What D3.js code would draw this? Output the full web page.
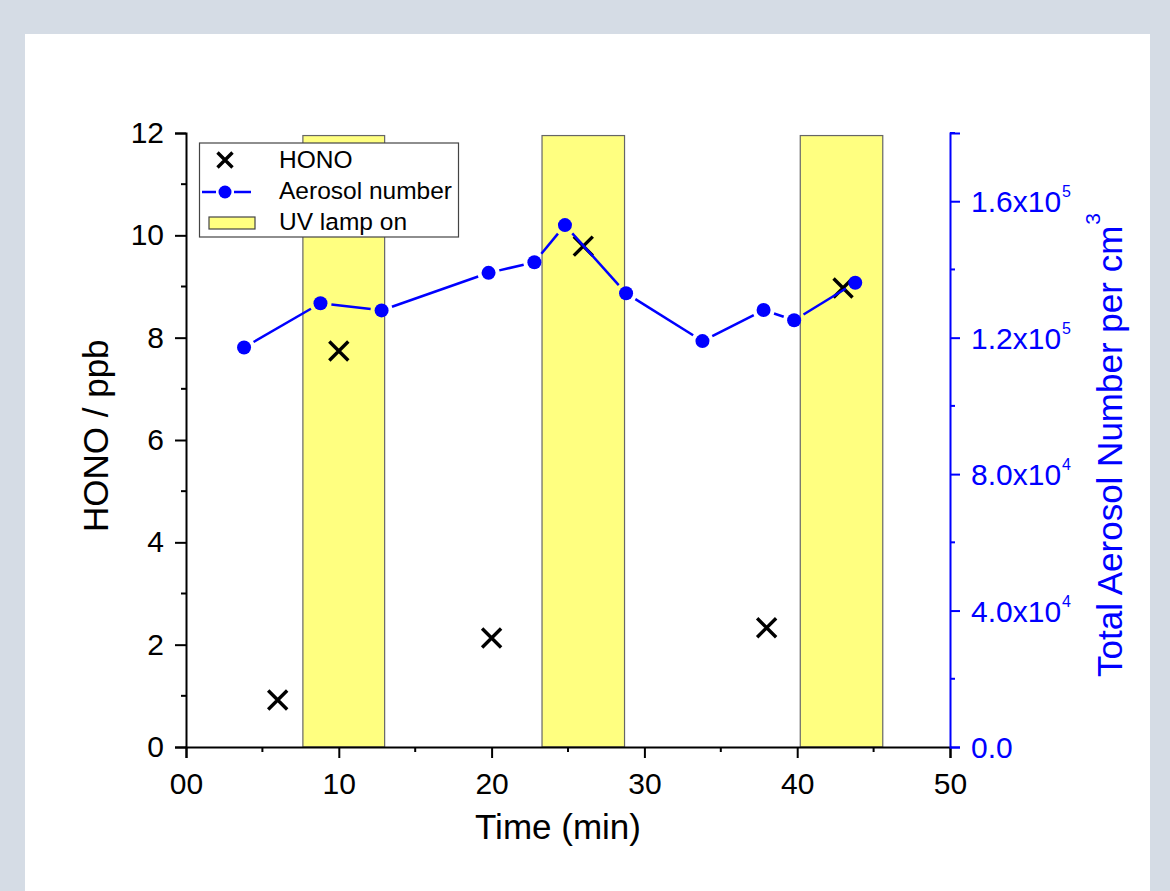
<!DOCTYPE html>
<html>
<head>
<meta charset="utf-8">
<script src="https://cdn.jsdelivr.net/npm/d3@7"></script>
<style>
  html, body { margin: 0; padding: 0; background: #d5dce5; }
  svg { display: block; font-family: "Liberation Sans", Arial, sans-serif; }
</style>
</head>
<body>
<div id="chart"></div>
<script>
// time of each measurement (min)
const honoTime = [6.0, 10.0, 20.0, 26.0, 38.0, 43.0];
const honoPpb = [0.92, 7.74, 2.13, 9.79, 2.33, 8.97];

const aerosolTime = [3.8, 8.8, 12.8, 19.8, 22.8, 24.8, 28.8, 33.8, 37.8, 39.8, 43.8];
const aerosolNumber = [117100, 130100, 128000, 139000, 142100, 153000, 133000, 119000, 128100, 125100, 136100];

// UV lamp on intervals
const lampStart = [7.65, 23.3, 40.2];
const lampEnd = [13.0, 28.7, 45.6];
const lampTop = 11.95;

const xTicks = [0, 10, 20, 30, 40, 50];
const xTickLabels = ["00", "10", "20", "30", "40", "50"];
const yTicks = [0, 2, 4, 6, 8, 10, 12];
const y2Ticks = [0, 40000, 80000, 120000, 160000];
const y2Mantissa = ["0.0", "4.0", "8.0", "1.2", "1.6"];
const y2Exp = ["", "4", "4", "5", "5"];

const W = 1170, H = 891;
const margin = {left: 186, right: 220, top: 133, bottom: 144};

const svg = d3.select("#chart").append("svg")
    .attr("width", W).attr("height", H);

svg.append("rect").attr("x", 0).attr("y", 0).attr("width", W).attr("height", H).attr("fill", "#d5dce5");
svg.append("rect").attr("x", 25).attr("y", 34).attr("width", 1125).attr("height", H - 34).attr("fill", "#fff");

const x = d3.scaleLinear().domain([0, 50]).range([margin.left, W - margin.right]);
const y = d3.scaleLinear().domain([0, 12]).range([H - margin.bottom, margin.top]);
const y2 = d3.scaleLinear().domain([0, 180000]).range([H - margin.bottom, margin.top]);

const BLUE = "#0000ff";
const TICK_FONT = 30;

// UV lamp bars
svg.append("g").selectAll("rect").data(lampStart).join("rect")
    .attr("x", (d) => x(d))
    .attr("y", y(lampTop))
    .attr("width", (d, i) => x(lampEnd[i]) - x(d))
    .attr("height", y(0) - y(lampTop))
    .attr("fill", "#ffff80")
    .attr("stroke", "#666")
    .attr("stroke-width", 1.2);

// axes
const xAxis = d3.axisBottom(x).tickValues(xTicks).tickFormat((d, i) => xTickLabels[i]).tickSize(11).tickPadding(15);
const gx = svg.append("g").attr("transform", "translate(0," + y(0) + ")").call(xAxis);
gx.attr("font-family", null).attr("font-size", null);
gx.selectAll("text").attr("font-size", TICK_FONT).attr("fill", "#000");
gx.select(".domain").attr("stroke", "#000").attr("stroke-width", 2);
gx.selectAll(".tick line").attr("stroke-width", 2);
// minor x ticks
svg.append("g").selectAll("line").data([5, 15, 25, 35, 45]).join("line")
    .attr("x1", (d) => x(d)).attr("x2", (d) => x(d))
    .attr("y1", y(0)).attr("y2", y(0) + 5)
    .attr("stroke", "#000").attr("stroke-width", 2);

const yAxis = d3.axisLeft(y).tickValues(yTicks).tickSize(11).tickPadding(11);
const gy = svg.append("g").attr("transform", "translate(" + x(0) + ",0)").call(yAxis);
gy.attr("font-family", null).attr("font-size", null);
gy.selectAll("text").attr("font-size", TICK_FONT).attr("fill", "#000");
gy.select(".domain").attr("stroke", "#000").attr("stroke-width", 2);
gy.selectAll(".tick line").attr("stroke-width", 2);
svg.append("g").selectAll("line").data([1, 3, 5, 7, 9, 11]).join("line")
    .attr("x1", x(0)).attr("x2", x(0) - 5)
    .attr("y1", (d) => y(d)).attr("y2", (d) => y(d))
    .attr("stroke", "#000").attr("stroke-width", 2);

const y2Axis = d3.axisRight(y2).tickValues(y2Ticks).tickSize(10).tickFormat("");
const gy2 = svg.append("g").attr("transform", "translate(" + x(50) + ",0)").call(y2Axis);
gy2.select(".domain").attr("stroke", BLUE).attr("stroke-width", 2);
gy2.selectAll(".tick line").attr("stroke", BLUE).attr("stroke-width", 2);
svg.append("g").selectAll("line").data([20000, 60000, 100000, 140000, 180000]).join("line")
    .attr("x1", x(50)).attr("x2", x(50) + 5)
    .attr("y1", (d) => y2(d)).attr("y2", (d) => y2(d))
    .attr("stroke", BLUE).attr("stroke-width", 2);
const y2Lab = svg.append("g").selectAll("text").data(y2Ticks).join("text")
    .attr("x", x(50) + 21)
    .attr("y", (d) => y2(d) + 11)
    .attr("font-size", TICK_FONT).attr("fill", BLUE);
y2Lab.append("tspan").text((d, i) => y2Mantissa[i] + (y2Exp[i] ? "x10" : ""));
y2Lab.append("tspan").attr("dy", -15).attr("dx", 1).attr("font-size", 16).text((d, i) => y2Exp[i]);

// axis titles
svg.append("text").attr("x", 558).attr("y", 839)
    .attr("text-anchor", "middle").attr("font-size", 35).text("Time (min)");
svg.append("text").attr("transform", "translate(108,532) rotate(-90)")
    .attr("text-anchor", "start").attr("font-size", 35).text("HONO / ppb");
const t2 = svg.append("text").attr("transform", "translate(1122,677) rotate(-90)")
    .attr("text-anchor", "start").attr("font-size", 35).attr("fill", BLUE);
t2.append("tspan").text("Total Aerosol Number per cm");
t2.append("tspan").attr("dy", -22).attr("dx", 1).attr("font-size", 21).text("3");

// HONO crosses
function cross(g, cx, cy, r) {
    g.append("path")
        .attr("d", "M" + (cx - r) + "," + (cy - r) + "L" + (cx + r) + "," + (cy + r) +
            "M" + (cx - r) + "," + (cy + r) + "L" + (cx + r) + "," + (cy - r))
        .attr("stroke", "#000").attr("stroke-width", 3.4).attr("fill", "none");
}
const gh = svg.append("g");
honoTime.forEach((t, i) => cross(gh, x(t), y(honoPpb[i]), 9.5));

// aerosol line with gaps around markers
const pts = aerosolTime.map((t, i) => [x(t), y2(aerosolNumber[i])]);
const gap = 11;
const ga = svg.append("g");
for (let i = 0; i < pts.length - 1; i++) {
    const [x1, y1] = pts[i], [x2, y2v] = pts[i + 1];
    const dx = x2 - x1, dy = y2v - y1, len = Math.hypot(dx, dy);
    if (len <= 2 * gap) continue;
    const ux = dx / len, uy = dy / len;
    ga.append("line")
        .attr("x1", x1 + ux * gap).attr("y1", y1 + uy * gap)
        .attr("x2", x2 - ux * gap).attr("y2", y2v - uy * gap)
        .attr("stroke", BLUE).attr("stroke-width", 2.5);
}
ga.selectAll("circle").data(pts).join("circle")
    .attr("cx", (d) => d[0]).attr("cy", (d) => d[1]).attr("r", 7)
    .attr("fill", BLUE);

// legend
const lg = svg.append("g");
lg.append("rect").attr("x", 199.5).attr("y", 143).attr("width", 259).attr("height", 94)
    .attr("fill", "#fff").attr("stroke", "#444").attr("stroke-width", 1.2);
cross(lg, 225, 160, 7.5);
lg.append("line").attr("x1", 202).attr("x2", 216).attr("y1", 192).attr("y2", 192).attr("stroke", BLUE).attr("stroke-width", 2.5);
lg.append("line").attr("x1", 234).attr("x2", 251).attr("y1", 192).attr("y2", 192).attr("stroke", BLUE).attr("stroke-width", 2.5);
lg.append("circle").attr("cx", 225).attr("cy", 192).attr("r", 6.5).attr("fill", BLUE);
lg.append("rect").attr("x", 209).attr("y", 217).attr("width", 46).attr("height", 12)
    .attr("fill", "#ffff80").attr("stroke", "#444").attr("stroke-width", 1.2);
const legendLabels = ["HONO", "Aerosol number", "UV lamp on"];
lg.selectAll("text.lab").data(legendLabels).join("text")
    .attr("class", "lab")
    .attr("x", 279).attr("y", (d, i) => 168 + i * 31)
    .attr("font-size", 24.5).text((d) => d);
</script>
</body>
</html>
